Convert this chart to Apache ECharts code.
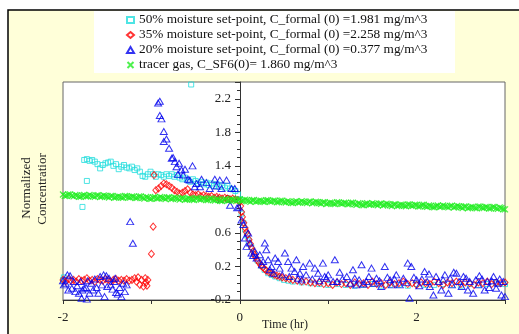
<!DOCTYPE html>
<html><head><meta charset="utf-8">
<script src="https://cdn.jsdelivr.net/npm/echarts@6/dist/echarts.min.js"></script>
<style>html,body{margin:0;padding:0;background:#fff}#c{width:519px;height:334px}</style>
</head><body><div id="c"></div><script>
// ---------- data ----------
const legendNames = [
  '50% moisture set-point, C_formal (0) =1.981 mg/m^3',
  '35% moisture set-point, C_formal (0) =2.258 mg/m^3',
  '20% moisture set-point, C_formal (0) =0.377 mg/m^3',
  'tracer gas, C_SF6(0)= 1.860 mg/m^3'
];
const xTickLabels = ['-2', '0', '2'];

const cyanTime = [-2.00,-1.99,-1.78,-1.73,-0.55,
 -1.76,-1.73,-1.70,-1.67,-1.64,-1.61,-1.58,-1.55,-1.52,-1.49,-1.46,-1.43,-1.40,-1.37,-1.34,-1.31,-1.28,-1.25,-1.22,-1.19,
 -1.16,-1.13,-1.10,-1.07,-1.04,-1.01,-0.98,-0.95,-0.92,-0.89,-0.86,-0.83,-0.80,-0.77,-0.74,-0.71,-0.68,-0.65,-0.62,-0.59,
 -0.56,-0.53,-0.50,-0.47,-0.44,-0.41,-0.38,-0.35,-0.32,-0.29,-0.26,-0.23,-0.20,-0.17,-0.14,-0.11,-0.08,-0.05,-0.02,
 0.00,0.02,0.04,0.06,0.08,0.10,0.13,0.16,0.20,0.24,0.28,0.32,0.36,0.40,0.45,0.50,0.55,0.60,0.70,0.80,0.90,
 1.00,1.10,1.20,1.30,1.40,1.50,1.60,1.70,1.80,1.90,2.00,2.10,2.20,2.30,2.40,2.50,2.60,2.70,2.80,2.90,3.00];
const cyanValue = [0.04,0.07,0.91,1.22,2.37,
 1.47,1.48,1.46,1.47,1.45,1.42,1.37,1.41,1.43,1.44,1.45,1.40,1.42,1.36,1.39,1.41,1.38,1.37,1.39,1.35,
 1.37,1.33,1.28,1.27,1.30,1.33,1.30,1.27,1.30,1.29,1.27,1.30,1.28,1.30,1.27,1.29,1.26,1.24,1.26,1.23,
 1.21,1.24,1.22,1.19,1.21,1.18,1.20,1.17,1.19,1.16,1.18,1.15,1.17,1.14,1.16,1.13,1.12,1.10,1.06,
 1.00,0.83,0.72,0.64,0.57,0.51,0.43,0.35,0.27,0.21,0.16,0.12,0.10,0.08,0.06,0.04,0.03,0.02,0.01,0.00,-0.01,
 -0.02,-0.01,-0.02,-0.03,-0.02,-0.01,-0.03,-0.02,-0.02,-0.03,-0.01,-0.02,-0.02,-0.01,-0.02,-0.03,-0.01,-0.02,-0.01,0.00,-0.01];

const redTime = [-2.00,-1.97,-1.94,-1.91,-1.88,-1.85,-1.82,-1.79,-1.76,-1.73,-1.70,-1.67,-1.64,-1.61,-1.58,-1.55,-1.52,-1.49,
 -1.46,-1.43,-1.40,-1.37,-1.34,-1.31,-1.28,-1.25,-1.22,-1.19,-1.17,-1.15,-1.13,-1.11,-1.09,-1.07,-1.06,-1.05,-1.04,
 -1.00,-0.98,-0.97,
 -0.95,-0.92,-0.89,-0.86,-0.83,-0.80,-0.77,-0.74,-0.71,-0.68,-0.65,-0.62,-0.59,-0.56,-0.53,-0.50,-0.47,-0.44,-0.41,
 -0.38,-0.35,-0.32,-0.29,-0.26,-0.23,-0.20,-0.17,-0.14,-0.11,-0.08,-0.05,-0.02,
 0.00,0.01,0.02,0.03,0.045,0.06,0.075,0.09,0.105,0.12,0.135,0.15,0.165,0.18,0.20,0.22,0.24,0.26,0.28,0.30,0.33,0.36,
 0.39,0.42,0.45,0.48,0.52,0.56,0.60,0.65,0.70,0.75,0.80,0.85,0.90,0.95,1.00,1.05,1.10,1.15,1.20,1.25,1.30,1.35,
 1.40,1.45,1.50,1.55,1.60,1.65,1.70,1.75,1.80,1.85,1.90,1.95,2.00,2.05,2.10,2.15,2.20,2.25,2.30,2.35,2.40,2.45,
 2.50,2.55,2.60,2.65,2.70,2.75,2.80,2.85,2.90,2.95,3.00];
const redValue = [0.04,0.02,0.05,0.03,0.04,0.02,0.05,0.03,0.04,0.06,0.03,0.04,0.02,0.05,0.04,0.03,0.05,0.04,
 0.02,0.04,0.05,0.03,0.04,0.03,0.05,0.03,0.04,0.06,0.02,0.07,-0.02,0.04,-0.04,0.06,0.01,-0.03,0.04,
 0.35,0.675,1.29,
 1.11,1.13,1.16,1.19,1.18,1.16,1.14,1.11,1.09,1.07,1.08,1.10,1.12,1.08,1.06,1.05,1.06,1.04,1.05,
 1.04,1.03,1.04,1.02,1.03,1.02,1.01,1.02,1.01,1.00,1.01,1.00,0.99,
 0.97,0.92,0.85,0.79,0.72,0.66,0.61,0.58,0.52,0.47,0.42,0.38,0.34,0.31,0.27,0.24,0.21,0.19,0.17,0.15,0.13,0.12,
 0.10,0.09,0.08,0.07,0.06,0.05,0.04,0.03,0.02,0.02,0.01,0.00,0.01,-0.01,0.00,-0.02,0.01,-0.01,0.00,-0.02,0.01,-0.01,
 0.00,-0.02,0.02,-0.01,0.00,-0.02,0.01,-0.01,0.00,0.02,-0.01,0.00,-0.02,0.01,0.00,-0.01,0.02,0.00,-0.02,0.01,0.00,0.02,
 -0.01,0.01,0.00,-0.02,0.01,0.00,0.02,-0.01,0.01,0.00,0.01];

const blueTime = [-2.00,-1.99,-1.97,-1.95,-1.94,-1.92,-1.90,-1.88,-1.86,-1.84,-1.82,-1.80,-1.79,-1.78,-1.76,-1.74,-1.73,-1.72,
 -1.70,-1.68,-1.66,-1.64,-1.62,-1.60,-1.58,-1.56,-1.54,-1.53,-1.51,-1.50,-1.48,-1.46,-1.44,-1.42,-1.41,-1.40,-1.38,-1.36,
 -1.34,-1.32,-1.30,-1.28,
 -1.24,-1.21,
 -0.924,-0.905,-0.905,-0.886,-0.86,-0.86,-0.83,-0.80,-0.77,-0.755,-0.735,-0.716,-0.70,-0.687,-0.66,-0.64,-0.62,-0.585,
 -0.566,-0.535,-0.51,-0.49,-0.45,-0.433,-0.377,-0.34,-0.283,-0.264,-0.226,-0.207,-0.15,-0.11,-0.094,-0.057,-0.03,-0.01,
 0.02,0.04,0.057,0.076,0.094,0.113,0.132,0.15,0.17,0.19,0.226,0.25,0.264,0.283,0.30,0.32,0.34,0.36,0.38,0.40,0.433,0.45,
 0.48,0.51,0.546,0.56,0.585,0.62,0.64,0.66,0.68,0.70,0.716,0.75,0.79,0.82,0.85,0.886,0.90,0.94,0.96,0.98,1.00,1.055,
 1.075,1.10,1.13,1.16,1.21,1.25,1.28,1.30,1.32,1.35,1.377,1.40,1.433,1.46,1.49,1.52,1.546,1.58,1.60,1.64,1.67,1.70,
 1.72,1.75,1.77,1.81,1.85,1.88,1.90,1.92,1.94,1.97,2.00,2.03,2.06,2.09,2.12,2.14,2.15,2.19,2.22,2.25,2.28,2.30,2.32,
 2.36,2.38,2.40,2.42,2.45,2.48,2.51,2.53,2.56,2.58,2.60,2.64,2.67,2.70,2.71,2.74,2.77,2.80,2.82,2.85,2.87,2.90,2.92,
 2.94,2.96,2.98,3.00];
const blueValue = [0.03,-0.02,0.00,0.10,-0.08,0.09,-0.06,0.02,-0.10,-0.03,-0.12,0.02,-0.18,-0.08,-0.06,-0.05,-0.19,0.03,
 -0.12,0.00,-0.08,0.05,-0.05,-0.12,0.08,-0.02,0.10,-0.16,0.09,-0.04,0.06,-0.02,-0.07,0.02,0.06,-0.11,-0.13,-0.05,
 -0.16,0.00,-0.10,-0.02,
 0.735,0.477,
 2.15,2.17,2.00,1.96,1.81,1.69,1.72,1.61,1.49,1.50,1.45,1.39,1.30,1.43,1.35,1.29,1.36,1.24,
 1.23,1.40,1.15,1.19,1.15,1.24,1.20,1.13,1.24,1.16,1.23,1.13,1.23,0.93,1.13,1.13,0.90,0.91,
 0.755,0.70,0.54,0.44,0.60,0.48,0.36,0.33,0.38,0.30,0.34,0.22,0.26,0.48,0.40,0.28,0.16,0.20,0.12,0.30,0.26,0.18,
 0.10,0.36,0.26,0.08,0.18,0.14,0.28,0.06,0.12,0.04,0.20,0.10,0.24,0.05,0.18,0.12,0.03,0.24,0.08,0.06,0.10,0.02,
 0.28,0.02,0.13,0.05,0.08,0.00,0.16,0.06,-0.02,0.04,0.22,-0.01,0.02,0.08,0.18,0.00,0.06,0.03,-0.04,0.20,0.07,0.04,
 -0.02,0.05,0.10,-0.02,0.06,0.01,0.24,-0.18,0.20,0.07,0.04,-0.03,0.05,0.14,0.02,0.11,-0.04,-0.14,0.08,0.02,-0.08,0.04,0.10,
 -0.12,0.06,-0.02,0.13,0.12,0.02,-0.04,0.08,0.06,-0.08,0.02,-0.12,0.04,-0.02,0.09,0.05,-0.08,0.02,-0.05,0.03,0.08,-0.06,0.00,
 0.05,-0.14,0.02,-0.16];

const tracerTime = [-2.00,-1.96,-1.92,-1.88,-1.84,-1.80,-1.76,-1.72,-1.68,-1.64,-1.60,-1.56,-1.52,-1.48,-1.44,-1.40,
 -1.36,-1.32,-1.28,-1.24,-1.20,-1.16,-1.12,-1.08,-1.04,-1.00,-0.96,-0.92,-0.88,-0.84,-0.80,-0.76,-0.72,-0.68,-0.64,
 -0.60,-0.56,-0.52,-0.48,-0.44,-0.40,-0.36,-0.32,-0.28,-0.24,-0.20,-0.16,-0.12,-0.08,-0.04,0.00,0.04,0.08,0.12,0.16,
 0.20,0.24,0.28,0.32,0.36,0.40,0.44,0.48,0.52,0.56,0.60,0.64,0.68,0.72,0.76,0.80,0.84,0.88,0.92,0.96,1.00,1.04,1.08,
 1.12,1.16,1.20,1.24,1.28,1.32,1.36,1.40,1.44,1.48,1.52,1.56,1.60,1.64,1.68,1.72,1.76,1.80,1.84,1.88,1.92,1.96,2.00,
 2.04,2.08,2.12,2.16,2.20,2.24,2.28,2.32,2.36,2.40,2.44,2.48,2.52,2.56,2.60,2.64,2.68,2.72,2.76,2.80,2.84,2.88,2.92,
 2.96,3.00];
const tracerValue = [1.058,1.043,1.060,1.036,1.047,1.031,1.053,1.038,1.045,1.030,
 1.051,1.035,1.041,1.022,1.042,1.026,1.033,1.018,1.039,1.022,
 1.033,1.018,1.035,1.011,1.022,1.006,1.028,1.013,1.020,1.005,
 1.026,1.011,1.016,0.997,1.017,1.002,1.008,0.993,1.014,0.998,
 1.008,0.993,1.010,0.987,0.997,0.981,1.003,0.989,0.995,0.980,
 1.001,0.986,0.991,0.972,0.992,0.977,0.983,0.968,0.989,0.973,
 0.983,0.968,0.985,0.962,0.972,0.956,0.978,0.964,0.970,0.955,
 0.976,0.961,0.966,0.947,0.967,0.952,0.958,0.943,0.964,0.948,
 0.958,0.943,0.960,0.937,0.947,0.931,0.953,0.939,0.945,0.930,
 0.951,0.936,0.941,0.922,0.942,0.927,0.933,0.918,0.939,0.923,
 0.933,0.918,0.935,0.912,0.922,0.906,0.928,0.914,0.920,0.905,
 0.926,0.911,0.916,0.897,0.917,0.902,0.908,0.893,0.914,0.898,
 0.908,0.893,0.910,0.887,0.897,0.881];
// second set of tracer readings, interleaved between the first
const tracerTime2 = [-1.98,-1.94,-1.90,-1.86,-1.82,-1.78,-1.74,-1.70,-1.66,-1.62,-1.58,-1.54,-1.50,-1.46,-1.42,-1.38,
 -1.34,-1.30,-1.26,-1.22,-1.18,-1.14,-1.10,-1.06,-1.02,-0.98,-0.94,-0.90,-0.86,-0.82,-0.78,-0.74,-0.70,-0.66,-0.62,
 -0.58,-0.54,-0.50,-0.46,-0.42,-0.38,-0.34,-0.30,-0.26,-0.22,-0.18,-0.14,-0.10,-0.06,-0.02,0.02,0.06,0.10,0.14,0.18,
 0.22,0.26,0.30,0.34,0.38,0.42,0.46,0.50,0.54,0.58,0.62,0.66,0.70,0.74,0.78,0.82,0.86,0.90,0.94,0.98,1.02,1.06,1.10,
 1.14,1.18,1.22,1.26,1.30,1.34,1.38,1.42,1.46,1.50,1.54,1.58,1.62,1.66,1.70,1.74,1.78,1.82,1.86,1.90,1.94,1.98,2.02,
 2.06,2.10,2.14,2.18,2.22,2.26,2.30,2.34,2.38,2.42,2.46,2.50,2.54,2.58,2.62,2.66,2.70,2.74,2.78,2.82,2.86,2.90,2.94,
 2.98];
const tracerValue2 = [1.040,1.059,1.043,1.053,1.032,1.047,1.035,1.053,1.037,1.047,
 1.028,1.047,1.031,1.040,1.020,1.035,1.023,1.040,1.025,1.035,
 1.016,1.034,1.018,1.028,1.008,1.022,1.010,1.028,1.013,1.022,
 1.003,1.022,1.006,1.015,0.995,1.010,0.998,1.015,1.000,1.010,
 0.991,1.009,0.993,1.003,0.983,0.997,0.985,1.003,0.988,0.997,
 0.978,0.997,0.981,0.990,0.970,0.985,0.973,0.990,0.975,0.985,
 0.966,0.984,0.968,0.978,0.958,0.972,0.960,0.978,0.963,0.972,
 0.953,0.972,0.956,0.965,0.945,0.960,0.948,0.965,0.950,0.960,
 0.941,0.959,0.943,0.953,0.933,0.947,0.935,0.953,0.938,0.947,
 0.928,0.947,0.931,0.940,0.920,0.935,0.923,0.940,0.925,0.935,
 0.916,0.934,0.918,0.928,0.908,0.922,0.910,0.928,0.913,0.922,
 0.903,0.922,0.906,0.915,0.895,0.910,0.898,0.915,0.900,0.910,
 0.891,0.909,0.893,0.903,0.883];

// ---------- chart ----------
const FONT = '"Liberation Serif","Times New Roman",serif';
function pairs(t, v) { return t.map((x, i) => [x, v[i]]); }
const chart = echarts.init(document.getElementById('c'), null, { renderer: 'canvas' });
const tf = { fontFamily: FONT, fontSize: 13, color: '#222' };
const option = {
  animation: false,
  backgroundColor: '#ffffff',
  graphic: [
    { type: 'rect', z: -100, silent: true, shape: { x: 8, y: 10, width: 530, height: 340 },
      style: { fill: '#FFFFD9', stroke: '#000', lineWidth: 1.5 } },
    { type: 'rect', z: -90, silent: true, shape: { x: 94, y: 11, width: 361, height: 62 }, style: { fill: '#fff' } },
    { type: 'text', silent: true, x: 285, y: 325,
      style: { text: 'Time (hr)', align: 'center', verticalAlign: 'middle', font: '12px ' + FONT, fill: '#222' } },
    { type: 'text', silent: true, x: 27, y: 188, rotation: Math.PI / 2,
      style: { text: 'Normalized', align: 'center', verticalAlign: 'middle', font: '13px ' + FONT, fill: '#222' } },
    { type: 'text', silent: true, x: 43, y: 189, rotation: Math.PI / 2,
      style: { text: 'Concentratior', align: 'center', verticalAlign: 'middle', font: '13px ' + FONT, fill: '#222' } }
  ],
  legend: {
    orient: 'vertical', left: 126, top: 13, itemWidth: 7, itemHeight: 6, itemGap: 1, padding: 0,
    textStyle: { fontFamily: FONT, fontSize: 13.3, color: '#111', lineHeight: 14 },
    data: legendNames
  },
  grid: { left: 63, right: 14, top: 82, bottom: 34, show: true, backgroundColor: '#fff', borderColor: '#666', borderWidth: 1 },
  xAxis: {
    type: 'value', min: -2, max: 3, interval: 1,
    axisLine: { onZero: false, lineStyle: { color: '#333' } },
    axisTick: { length: 4, lineStyle: { color: '#333' } },
    axisLabel: Object.assign({ margin: 11, formatter: v => (xTickLabels.indexOf(String(v)) >= 0 ? String(v) : '') }, tf),
    splitLine: { show: false }
  },
  yAxis: {
    type: 'value', min: -0.2, max: 2.4, interval: 0.4, offset: -177,
    axisLine: { show: true, onZero: false, lineStyle: { color: '#333' } },
    axisTick: { show: true, length: 5, lineStyle: { color: '#333' } },
    minorTick: { show: true, splitNumber: 4, length: 3, lineStyle: { color: '#333' } },
    axisLabel: Object.assign({ margin: 9, showMaxLabel: false, formatter: v => v.toFixed(1) }, tf),
    splitLine: { show: false }
  },
  series: [
    { name: legendNames[0], type: 'scatter', symbol: 'rect', symbolSize: 5, data: pairs(cyanTime, cyanValue),
      itemStyle: { color: 'rgba(0,0,0,0)', borderColor: '#22DDDD', borderWidth: 1 }, emphasis: { disabled: true } },
    { name: legendNames[1], type: 'scatter', symbol: 'diamond', symbolSize: [6, 7], data: pairs(redTime, redValue),
      itemStyle: { color: 'rgba(0,0,0,0)', borderColor: '#FF0000', borderWidth: 1 }, emphasis: { disabled: true } },
    { name: legendNames[2], type: 'scatter', symbol: 'triangle', symbolSize: [7, 6], data: pairs(blueTime, blueValue),
      itemStyle: { color: 'rgba(0,0,0,0)', borderColor: '#0000EE', borderWidth: 1 }, emphasis: { disabled: true } },
    { name: legendNames[3], type: 'scatter', symbol: 'path://M0,0L10,10M10,0L0,10', symbolSize: 6,
      data: pairs(tracerTime, tracerValue).concat(pairs(tracerTime2, tracerValue2)),
      itemStyle: { color: 'rgba(0,0,0,0)', borderColor: '#22EE22', borderWidth: 1.3 }, emphasis: { disabled: true } }
  ]
};
chart.setOption(option);
</script></body></html>
